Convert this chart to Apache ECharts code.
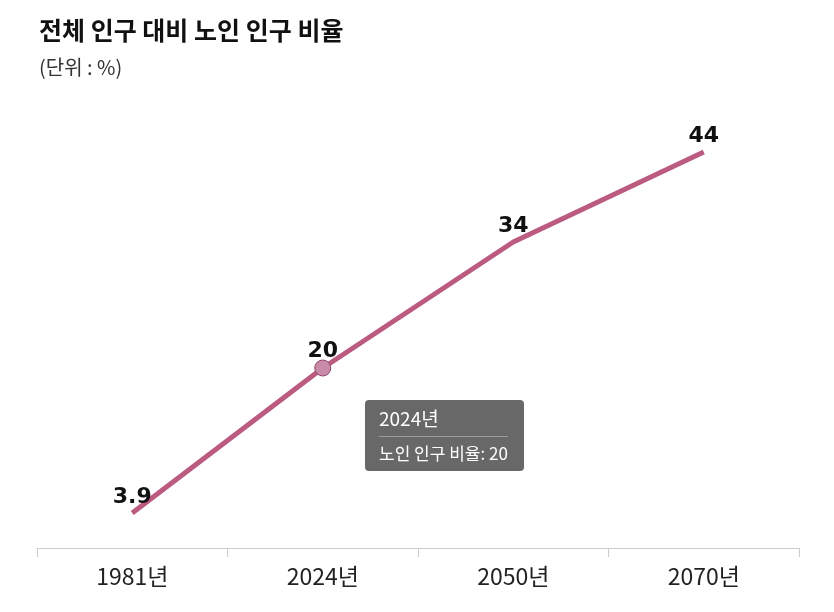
<!DOCTYPE html>
<html>
<head>
<meta charset="utf-8">
<script src="https://cdn.jsdelivr.net/npm/echarts@6/dist/echarts.min.js"></script>
<style>
  html, body { margin: 0; padding: 0; background: #fff; }
  #myChart { width: 834px; height: 612px; }
</style>
</head>
<body>
<div id="myChart"></div>
<script>
var years = ['1981년', '2024년', '2050년', '2070년'];
var ratio = [3.9, 20, 34, 44];
var seriesName = '노인 인구 비율';

var dom = document.getElementById('myChart');
var myChart = echarts.init(dom);

var option = {
    animation: false,
    title: {
        text: '전체 인구 대비 노인 인구 비율',
        subtext: '(단위 : %)',
        left: 34,
        top: 13,
        itemGap: 14,
        textStyle: {
            fontFamily: 'Noto Sans CJK KR',
            fontSize: 25,
            fontWeight: 'bold',
            color: '#111'
        },
        subtextStyle: {
            fontFamily: 'Noto Sans CJK KR',
            fontSize: 20,
            color: '#333'
        }
    },
    tooltip: {
        trigger: 'axis',
        axisPointer: { type: 'none' },
        backgroundColor: 'rgba(96,96,96,0.95)',
        borderWidth: 0,
        padding: [6, 16, 7, 14],
        extraCssText: 'box-shadow:none;border-radius:4px;',
        textStyle: { color: '#fff', fontFamily: 'Noto Sans CJK KR', fontSize: 17 },
        position: function (point) {
            return [point[0] + 42, point[1] + 32];
        },
        formatter: function (params) {
            var p = params[0];
            return '<div style="font-size:19px;line-height:24px;">' + p.name + '</div>'
                + '<div style="border-top:1px solid rgba(255,255,255,0.35);margin:6px 0 5px;"></div>'
                + '<div style="font-size:17px;line-height:22px;">' + p.seriesName + ': ' + p.value + '</div>';
        }
    },
    grid: {
        left: 37,
        right: 35,
        top: 98,
        bottom: 64
    },
    xAxis: {
        type: 'category',
        boundaryGap: true,
        data: years,
        axisLine: { show: true, lineStyle: { color: '#ccc', width: 1 } },
        axisTick: { show: true, length: 9, lineStyle: { color: '#ccc' } },
        axisLabel: {
            margin: 17,
            fontFamily: 'Noto Sans CJK KR',
            fontSize: 23,
            color: '#222'
        }
    },
    yAxis: {
        type: 'value',
        min: 0,
        max: 50,
        show: false
    },
    series: [{
        name: seriesName,
        type: 'line',
        data: ratio,
        showSymbol: true,
        symbol: 'circle',
        symbolSize: 16,
        lineStyle: { color: '#ab5375', width: 5 },
        // 평소엔 점을 숨기고 강조 시에만 표시
        itemStyle: { color: 'rgba(0,0,0,0)', borderWidth: 0 },
        label: {
            show: true,
            position: 'top',
            distance: -3,
            fontFamily: 'DejaVu Sans',
            fontWeight: 'bold',
            fontSize: 22,
            color: '#111'
        },
        emphasis: {
            scale: false,
            lineStyle: { width: 5 },
            itemStyle: {
                color: '#c98aa8',
                borderColor: '#8e4766',
                borderWidth: 1
            }
        }
    }]
};
myChart.setOption(option, true);

// 2024년 포인트 강조 + 툴팁 고정 표시
myChart.dispatchAction({ type: 'highlight', seriesIndex: 0, dataIndex: 1 });
myChart.dispatchAction({ type: 'showTip', seriesIndex: 0, dataIndex: 1 });
</script>
</body>
</html>
